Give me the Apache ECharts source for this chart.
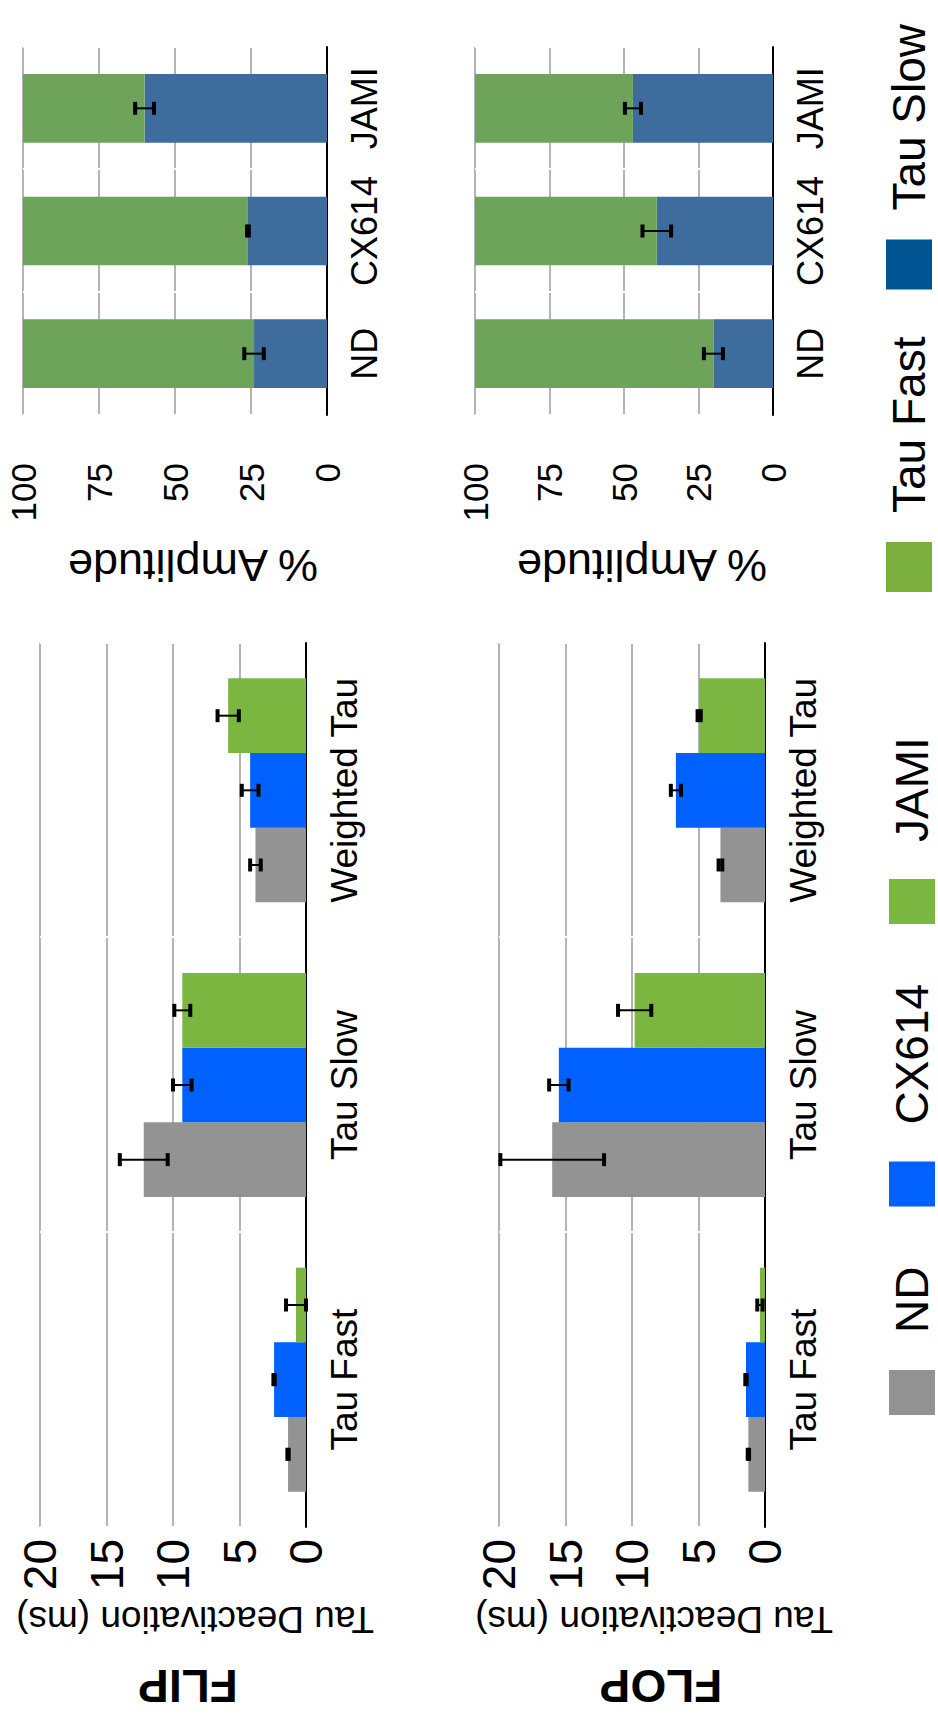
<!DOCTYPE html>
<html>
<head>
<meta charset="utf-8">
<script src="https://cdn.jsdelivr.net/npm/echarts/dist/echarts.min.js"></script>
<style>
html, body { margin: 0; padding: 0; background: #fff; overflow: hidden; }
/* the figure is drawn landscape and turned a quarter turn to the left */
#main {
    position: absolute; left: 0; top: 0;
    width: 1722px; height: 938px;
    transform-origin: 0 0;
    transform: translateY(1722px) rotate(-90deg);
}
</style>
</head>
<body>
<div id="main"></div>
<script>
var categories = ['Tau Fast', 'Tau Slow', 'Weighted Tau'];
var groups = ['ND', 'CX614', 'JAMI'];
var tauTicks = [0, 5, 10, 15, 20];
var ampTicks = [0, 25, 50, 75, 100];

// FLIP, tau deactivation (ms), mean and error
var flipND = [1.35, 12.2, 3.8];
var flipNDErr = [0.05, 1.8, 0.4];
var flipCX614 = [2.4, 9.3, 4.2];
var flipCX614Err = [0.05, 0.7, 0.63];
var flipJAMI = [0.75, 9.3, 5.85];
var flipJAMIErr = [0.75, 0.6, 0.8];

// FLOP, tau deactivation (ms)
var flopND = [1.25, 16.0, 3.35];
var flopNDErr = [0.05, 3.9, 0.14];
var flopCX614 = [1.43, 15.5, 6.7];
var flopCX614Err = [0.05, 0.73, 0.38];
var flopJAMI = [0.38, 9.8, 4.95];
var flopJAMIErr = [0.2, 1.25, 0.12];

// % amplitude, tau slow / tau fast per group
var ampFlipSlow = [24, 26, 60];
var ampFlipSlowErr = [3.2, 0.3, 3.1];
var ampFlipFast = [76, 74, 40];
var ampFlopSlow = [20, 39, 47];
var ampFlopSlowErr = [3.2, 4.8, 2.7];
var ampFlopFast = [80, 61, 53];

var FONT = "'Liberation Sans', Arial, Helvetica, sans-serif";
var GRAY = '#939393', BLUE = '#0061fe', GREEN = '#7ab640';
var AMP_GREEN = '#6da45a', AMP_BLUE = '#3d6c9d';

var chart = echarts.init(document.getElementById('main'), null, {renderer: 'svg'});

// error bar drawn on the centre of bar k of a group of n
function errorBars(n, gap) {
    return function (params, api) {
        var cat = api.value(0), val = api.value(1), err = api.value(2), k = api.value(3);
        var band = api.size([1, 0])[0];
        var bw = band * (1 - gap) / n;
        var off = (k - (n - 1) / 2) * bw;
        var hi = api.coord([cat, val + err]);
        var lo = api.coord([cat, val - err]);
        var x = hi[0] + off;
        var capW = 13, capH = 4;
        return {
            type: 'group',
            children: [
                {type: 'line', shape: {x1: x, y1: hi[1], x2: x, y2: lo[1]}, style: {stroke: '#000', lineWidth: 2}},
                {type: 'rect', shape: {x: x - capW / 2, y: hi[1] - capH / 2, width: capW, height: capH}, style: {fill: '#000'}},
                {type: 'rect', shape: {x: x - capW / 2, y: lo[1] - capH / 2, width: capW, height: capH}, style: {fill: '#000'}}
            ]
        };
    };
}

function errData(means, errs) {
    var out = [];
    for (var k = 0; k < means.length; k++) {
        for (var i = 0; i < means[k].length; i++) {
            out.push([i, means[k][i], errs[k][i], k]);
        }
    }
    return out;
}

function catAxis(gridIndex, data, fontSize, margin) {
    return {
        type: 'category', gridIndex: gridIndex, data: data,
        axisLine: {show: true, lineStyle: {color: '#000', width: 2}},
        axisTick: {show: false},
        splitLine: {show: true, interval: 0, lineStyle: {color: '#fff', width: 2}},
        axisLabel: {color: '#000', fontSize: fontSize, fontFamily: FONT, margin: margin, interval: 0}
    };
}

function valAxis(gridIndex, ticks, name, o) {
    return {
        type: 'value', gridIndex: gridIndex,
        min: ticks[0], max: ticks[ticks.length - 1], interval: ticks[1] - ticks[0],
        name: name, nameLocation: 'middle', nameGap: o.nameGap,
        nameTextStyle: {color: '#000', fontSize: o.nameSize, fontFamily: FONT, padding: [0, o.shift, 0, 0]},
        axisLine: {show: false},
        axisTick: {show: false},
        splitLine: {show: true, lineStyle: {color: '#b4b4b4', width: 2}},
        axisLabel: {color: '#000', fontSize: o.labelSize, fontFamily: FONT, margin: o.labelMargin}
    };
}

function tauBars(axis, vals, errs) {
    var colors = [GRAY, BLUE, GREEN];
    var list = [];
    for (var k = 0; k < groups.length; k++) {
        list.push({
            name: groups[k], type: 'bar', xAxisIndex: axis, yAxisIndex: axis,
            barGap: '0%', barCategoryGap: '24%',
            itemStyle: {color: colors[k]},
            data: vals[k]
        });
    }
    list.push({
        type: 'custom', xAxisIndex: axis, yAxisIndex: axis, z: 5,
        renderItem: errorBars(3, 0.24),
        data: errData(vals, errs)
    });
    return list;
}

function ampBars(axis, slow, slowErr, fast) {
    return [
        {name: 'Tau Slow', type: 'bar', stack: 'amp' + axis, xAxisIndex: axis, yAxisIndex: axis,
         barCategoryGap: '44%', itemStyle: {color: AMP_BLUE}, data: slow},
        {name: 'Tau Fast', type: 'bar', stack: 'amp' + axis, xAxisIndex: axis, yAxisIndex: axis,
         barCategoryGap: '44%', itemStyle: {color: AMP_GREEN}, data: fast},
        {type: 'custom', xAxisIndex: axis, yAxisIndex: axis, z: 5,
         renderItem: errorBars(1, 0.44),
         data: errData([slow], [slowErr])}
    ];
}

var tauOpt = {nameGap: 70, nameSize: 37, shift: 44, labelSize: 46, labelMargin: 12};
var ampOpt = {nameGap: 128, nameSize: 45, shift: 36, labelSize: 35, labelMargin: 48};

var option = {
    backgroundColor: '#fff',
    animation: false,
    textStyle: {fontFamily: FONT},
    grid: [
        {left: 195, top: 40, width: 884, height: 266},
        {left: 195, top: 499, width: 884, height: 266},
        {left: 1307, top: 23, width: 368, height: 304},
        {left: 1307, top: 475, width: 368, height: 298}
    ],
    xAxis: [
        catAxis(0, categories, 37, 20),
        catAxis(1, categories, 37, 20),
        catAxis(2, groups, 36, 19),
        catAxis(3, groups, 36, 19)
    ],
    yAxis: [
        valAxis(0, tauTicks, 'Tau Deactivation (ms)', tauOpt),
        valAxis(1, tauTicks, 'Tau Deactivation (ms)', tauOpt),
        valAxis(2, ampTicks, '% Amplitude', ampOpt),
        valAxis(3, ampTicks, '% Amplitude', ampOpt)
    ],
    legend: [
        {
            left: 302, top: 884, orient: 'horizontal', icon: 'rect',
            itemWidth: 45, itemHeight: 46, itemGap: 60,
            textStyle: {color: '#000', fontSize: 46, fontFamily: FONT, padding: [0, 0, 0, 32]},
            data: groups
        },
        {
            left: 1125, top: 881, orient: 'horizontal', icon: 'rect',
            itemWidth: 50, itemHeight: 46, itemGap: 47,
            textStyle: {color: '#000', fontSize: 46, fontFamily: FONT, padding: [0, 0, 0, 24]},
            data: [
                {name: 'Tau Fast', itemStyle: {color: '#7aaf3e'}},
                {name: 'Tau Slow', itemStyle: {color: '#005592'}}
            ]
        }
    ],
    graphic: [
        {type: 'text', x: 36, y: 188, rotation: Math.PI / 2,
         style: {text: 'FLIP', fontSize: 46, fontWeight: 'bold', fontFamily: FONT, fill: '#000', align: 'center', verticalAlign: 'middle'}},
        {type: 'text', x: 36, y: 661, rotation: Math.PI / 2,
         style: {text: 'FLOP', fontSize: 46, fontWeight: 'bold', fontFamily: FONT, fill: '#000', align: 'center', verticalAlign: 'middle'}}
    ],
    series: []
        .concat(tauBars(0, [flipND, flipCX614, flipJAMI], [flipNDErr, flipCX614Err, flipJAMIErr]))
        .concat(tauBars(1, [flopND, flopCX614, flopJAMI], [flopNDErr, flopCX614Err, flopJAMIErr]))
        .concat(ampBars(2, ampFlipSlow, ampFlipSlowErr, ampFlipFast))
        .concat(ampBars(3, ampFlopSlow, ampFlopSlowErr, ampFlopFast))
};

chart.setOption(option);
</script>
</body>
</html>
